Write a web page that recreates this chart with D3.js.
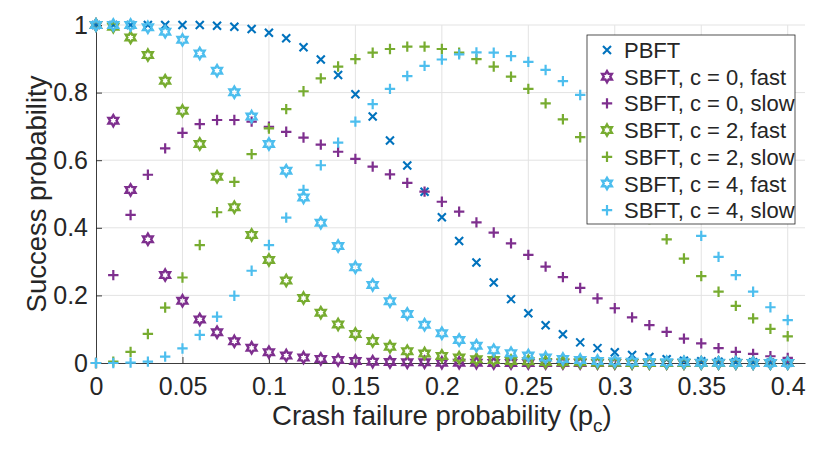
<!DOCTYPE html>
<html>
<head>
<meta charset="utf-8">
<script src="https://d3js.org/d3.v7.min.js"></script>
<style>
  body { margin: 0; background: #fff; }
  text { font-family: "Liberation Sans", Arial, Helvetica, sans-serif; fill: #262626; }
</style>
</head>
<body>
<div id="chart"></div>
<script>
// x values: crash failure probability 0 .. 0.40 step 0.01
const pc = [0, 0.01, 0.02, 0.03, 0.04, 0.05, 0.06, 0.07, 0.08, 0.09,
            0.10, 0.11, 0.12, 0.13, 0.14, 0.15, 0.16, 0.17, 0.18, 0.19,
            0.20, 0.21, 0.22, 0.23, 0.24, 0.25, 0.26, 0.27, 0.28, 0.29,
            0.30, 0.31, 0.32, 0.33, 0.34, 0.35, 0.36, 0.37, 0.38, 0.39, 0.40];

const pbft = [1.000, 1.000, 1.000, 1.000, 1.000, 1.000, 1.000, 0.998, 0.995, 0.988,
              0.977, 0.961, 0.934, 0.898, 0.852, 0.795, 0.729, 0.658, 0.584, 0.507,
              0.431, 0.361, 0.297, 0.238, 0.189, 0.147, 0.112, 0.085, 0.061, 0.044,
              0.032, 0.024, 0.018, 0.011, 0.007, 0.005, 0.004, 0.003, 0.002, 0.001, 0.001];

const c0Fast = [1.000, 0.717, 0.512, 0.366, 0.260, 0.184, 0.129, 0.091, 0.064, 0.045,
                0.032, 0.022, 0.016, 0.012, 0.009, 0.006, 0.004, 0.003, 0.002, 0.002,
                0.001, 0.001, 0.001, 0, 0, 0, 0, 0, 0, 0,
                0, 0, 0, 0, 0, 0, 0, 0, 0, 0, 0];

const c0Slow = [0, 0.260, 0.438, 0.557, 0.635, 0.681, 0.707, 0.719, 0.719, 0.714,
                0.699, 0.684, 0.667, 0.646, 0.625, 0.604, 0.581, 0.558, 0.533, 0.507,
                0.477, 0.448, 0.416, 0.386, 0.354, 0.320, 0.285, 0.254, 0.222, 0.191,
                0.162, 0.135, 0.112, 0.092, 0.072, 0.058, 0.044, 0.033, 0.027, 0.020, 0.015];

const c2Fast = [1.000, 0.995, 0.963, 0.911, 0.835, 0.746, 0.648, 0.551, 0.461, 0.379,
                0.305, 0.244, 0.192, 0.149, 0.114, 0.086, 0.065, 0.048, 0.035, 0.028,
                0.021, 0.016, 0.011, 0.009, 0.006, 0.005, 0.003, 0.002, 0.002, 0.001,
                0.001, 0, 0, 0, 0, 0, 0, 0, 0, 0, 0];

const c2Slow = [0, 0.004, 0.033, 0.086, 0.164, 0.253, 0.349, 0.446, 0.536, 0.618,
                0.694, 0.751, 0.804, 0.842, 0.877, 0.899, 0.918, 0.929, 0.936, 0.936,
                0.929, 0.918, 0.899, 0.877, 0.847, 0.811, 0.768, 0.721, 0.668, 0.610,
                0.549, 0.487, 0.426, 0.366, 0.309, 0.257, 0.211, 0.169, 0.132, 0.101, 0.079];

const c4Fast = [1.000, 1.000, 1.000, 0.993, 0.980, 0.956, 0.916, 0.865, 0.801, 0.729,
                0.648, 0.569, 0.490, 0.415, 0.346, 0.283, 0.231, 0.183, 0.145, 0.113,
                0.088, 0.068, 0.051, 0.038, 0.029, 0.022, 0.016, 0.012, 0.009, 0.006,
                0.005, 0.004, 0.003, 0.002, 0.002, 0.001, 0.001, 0.001, 0, 0, 0];

const c4Slow = [0, 0, 0.001, 0.004, 0.019, 0.043, 0.083, 0.137, 0.199, 0.273,
                0.349, 0.430, 0.512, 0.585, 0.652, 0.714, 0.766, 0.811, 0.849, 0.879,
                0.898, 0.913, 0.919, 0.918, 0.908, 0.891, 0.867, 0.834, 0.793, 0.741,
                0.686, 0.627, 0.567, 0.505, 0.441, 0.376, 0.314, 0.260, 0.211, 0.165, 0.127];

const xTicks = [0, 0.05, 0.1, 0.15, 0.2, 0.25, 0.3, 0.35, 0.4];
const xTickLabels = ["0", "0.05", "0.1", "0.15", "0.2", "0.25", "0.3", "0.35", "0.4"];
const yTicks = [0, 0.2, 0.4, 0.6, 0.8, 1];
const yTickLabels = ["0", "0.2", "0.4", "0.6", "0.8", "1"];

const seriesNames = ["PBFT", "SBFT, c = 0, fast", "SBFT, c = 0, slow", "SBFT, c = 2, fast",
                     "SBFT, c = 2, slow", "SBFT, c = 4, fast", "SBFT, c = 4, slow"];
const seriesValues = [pbft, c0Fast, c0Slow, c2Fast, c2Slow, c4Fast, c4Slow];
const seriesColors = ["#0072BD", "#7E2F8E", "#7E2F8E", "#77AC30", "#77AC30", "#4DBEEE", "#4DBEEE"];
const seriesMarkers = ["x", "hexagram", "plus", "hexagram", "plus", "hexagram", "plus"];

// set the dimensions and margins of the graph
const W = 830, H = 459;
const margin = {top: 25, left: 96},
      width = 709,
      height = 338;

const svg = d3.select("#chart")
              .append("svg")
              .attr("width", W)
              .attr("height", H)
              .append("g")
              .attr("transform", `translate(${margin.left},${margin.top})`);

const x = d3.scaleLinear().domain([0, 0.41]).range([0, width]);
const y = d3.scaleLinear().domain([0, 1]).range([height, 0]);

// marker paths
function markerPath(type) {
   if (type === "plus") {
      const r = 5.2;
      return `M${-r},0H${r}M0,${-r}V${r}`;
   }
   if (type === "x") {
      const r = 4;
      return `M${-r},${-r}L${r},${r}M${-r},${r}L${r},${-r}`;
   }
   // hexagram, point up
   const R = 5.6, r = R / Math.sqrt(3);
   let pts = [];
   for (let i = 0; i < 12; i++) {
      const a = -Math.PI / 2 + i * Math.PI / 6;
      const rad = i % 2 === 0 ? R : r;
      pts.push([rad * Math.cos(a), rad * Math.sin(a)]);
   }
   return "M" + pts.map(p => p[0].toFixed(2) + "," + p[1].toFixed(2)).join("L") + "Z";
}
const markerWidth = {plus: 2.2, x: 2.1, hexagram: 2.4};

// grid
svg.append("g")
   .selectAll("line")
   .data(xTicks.slice(1))
   .join("line")
   .attr("x1", d => x(d)).attr("x2", d => x(d))
   .attr("y1", 0).attr("y2", height)
   .attr("stroke", "#e3e3e3").attr("stroke-width", 1);

svg.append("g")
   .selectAll("line")
   .data(yTicks.slice(1))
   .join("line")
   .attr("x1", 0).attr("x2", width)
   .attr("y1", d => y(d)).attr("y2", d => y(d))
   .attr("stroke", "#e3e3e3").attr("stroke-width", 1);

// x axis
const xAxis = svg.append("g")
   .attr("transform", `translate(0,${height})`)
   .call(d3.axisBottom(x).tickValues(xTicks).tickFormat((d, i) => xTickLabels[i])
           .tickSizeInner(-6).tickSizeOuter(0).tickPadding(14));
xAxis.select(".domain").attr("stroke", "#262626").attr("stroke-width", 0.9);
xAxis.selectAll(".tick line").attr("stroke", "#262626").attr("stroke-width", 0.9);
xAxis.selectAll("text")
     .style("font-size", "25px")
     .style("font-family", "'Liberation Sans', Arial, sans-serif")
     .attr("fill", "#262626");

// y axis
const yAxis = svg.append("g")
   .call(d3.axisLeft(y).tickValues(yTicks).tickFormat((d, i) => yTickLabels[i])
           .tickSizeInner(-6).tickSizeOuter(0).tickPadding(8));
yAxis.select(".domain").attr("stroke", "#262626").attr("stroke-width", 0.9);
yAxis.selectAll(".tick line").attr("stroke", "#262626").attr("stroke-width", 0.9);
yAxis.selectAll("text")
     .style("font-size", "25px")
     .style("font-family", "'Liberation Sans', Arial, sans-serif")
     .attr("fill", "#262626");

// axis labels
const xLabel = svg.append("text")
   .attr("x", width * 0.4 / 0.41 / 2)
   .attr("y", height + 62)
   .attr("text-anchor", "middle")
   .style("font-size", "27.5px");
xLabel.append("tspan").text("Crash failure probability (p");
xLabel.append("tspan").attr("dy", 7).style("font-size", "19px").text("c");
xLabel.append("tspan").attr("dy", -7).text(")");

svg.append("text")
   .attr("transform", `translate(${-50},${height / 2}) rotate(-90)`)
   .attr("text-anchor", "middle")
   .style("font-size", "27.5px")
   .text("Success probability");

// series markers
seriesValues.forEach((vals, s) => {
   svg.append("g")
      .selectAll("path")
      .data(vals)
      .join("path")
      .attr("transform", (d, i) => `translate(${x(pc[i])},${y(d)})`)
      .attr("d", markerPath(seriesMarkers[s]))
      .attr("fill", "none")
      .attr("stroke", seriesColors[s])
      .attr("stroke-width", markerWidth[seriesMarkers[s]])
      .attr("stroke-linejoin", "miter");
});

// legend
const legend = svg.append("g")
   .attr("transform", `translate(${587 - margin.left},${35 - margin.top})`);
legend.append("rect")
      .attr("width", 208).attr("height", 189)
      .attr("fill", "#fff")
      .attr("stroke", "#262626").attr("stroke-width", 0.8);

const rows = legend.selectAll(".row")
   .data(seriesNames)
   .join("g")
   .attr("class", "row")
   .attr("transform", (d, i) => `translate(0,${15 + i * 26.7})`);

rows.append("path")
    .attr("transform", "translate(20,0)")
    .attr("d", (d, i) => markerPath(seriesMarkers[i]))
    .attr("fill", "none")
    .attr("stroke", (d, i) => seriesColors[i])
    .attr("stroke-width", (d, i) => markerWidth[seriesMarkers[i]]);

rows.append("text")
    .attr("x", 37)
    .attr("y", 8)
    .style("font-size", "22px")
    .attr("fill", "#000")
    .text(d => d);
</script>
</body>
</html>
